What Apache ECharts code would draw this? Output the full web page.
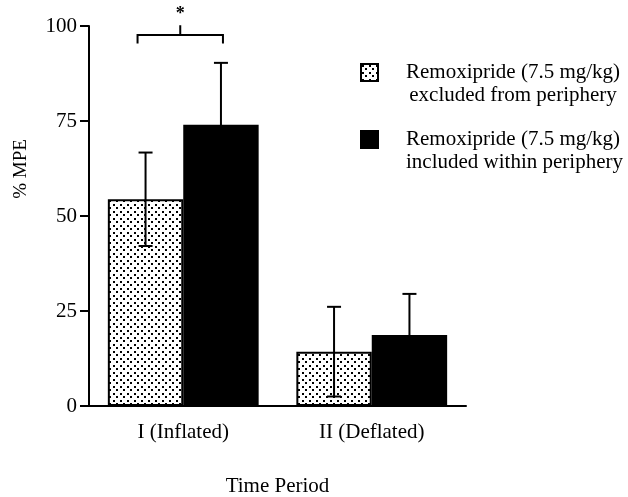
<!DOCTYPE html>
<html>
<head>
<meta charset="utf-8">
<script src="https://cdn.jsdelivr.net/npm/echarts@6/dist/echarts.min.js"></script>
<style>html,body{margin:0;padding:0;background:#fff;}#c{width:628px;height:497px;}</style>
</head>
<body>
<div id="c"></div>
<script>
const categories = ['I (Inflated)', 'II (Deflated)'];
const excludedMean = [54.4, 14.3];
const excludedErr = [12.3, 11.8];
const includedMean = [74.0, 18.7];
const includedErr = [16.3, 10.8];
const yTicks = [0, 25, 50, 75, 100];
const seriesNames = ['Remoxipride (7.5 mg/kg)\nexcluded from periphery', 'Remoxipride (7.5 mg/kg)\nincluded within periphery'];
const significance = [{ category: 0, level: 97.6, label: '*' }];

const FONT = 'Liberation Serif';

// dotted pattern
const pc = document.createElement('canvas');
pc.width = 7; pc.height = 7;
const pctx = pc.getContext('2d');
pctx.fillStyle = '#fff'; pctx.fillRect(0, 0, 7, 7);
pctx.fillStyle = '#000';
pctx.fillRect(1, 1, 2, 2);
pctx.fillRect(4, 4, 2, 2);
const dotted = { image: pc, repeat: 'repeat' };

const chart = echarts.init(document.getElementById('c'), null, { renderer: 'canvas' });

function errRender(offsetSign) {
  return function (params, api) {
    const idx = api.value(0);
    const m = api.value(1), e = api.value(2);
    const band = api.size([1, 0])[0];
    const x = api.coord([idx, m])[0] + offsetSign * band * 0.2;
    const yTop = api.coord([idx, m + e])[1];
    const yBot = api.coord([idx, m - e])[1];
    const cap = 7;
    const st = { stroke: '#000', lineWidth: 2 };
    return {
      type: 'group',
      children: [
        { type: 'line', shape: { x1: x, y1: yTop, x2: x, y2: yBot }, style: st },
        { type: 'line', shape: { x1: x - cap, y1: yTop, x2: x + cap, y2: yTop }, style: st },
        { type: 'line', shape: { x1: x - cap, y1: yBot, x2: x + cap, y2: yBot }, style: st }
      ]
    };
  };
}

const lineCenters = {
  a: { fontFamily: FONT, fontSize: 21, lineHeight: 23, color: '#000' },
  b: { fontFamily: FONT, fontSize: 21, lineHeight: 23, color: '#000', align: 'center' }
};

chart.setOption({
  animation: false,
  backgroundColor: '#fff',
  textStyle: { fontFamily: FONT, color: '#000' },
  grid: { left: 89, right: 162, top: 26, bottom: 91, containLabel: false, outerBoundsMode: 'none' },
  legend: {
    orient: 'vertical',
    left: 360,
    top: 62,
    padding: 0,
    itemWidth: 17,
    itemHeight: 17,
    itemGap: 23,
    icon: 'rect',
    selectedMode: false,
    data: seriesNames,
    formatter: function (name) {
      const parts = name.split('\n');
      return '{a|' + parts[0] + '}\n{b|' + parts[1] + '}';
    },
    textStyle: { fontFamily: FONT, fontSize: 21, color: '#000', padding: [23, 0, 0, 23], rich: lineCenters }
  },
  xAxis: {
    type: 'category',
    data: categories,
    name: 'Time Period',
    nameLocation: 'middle',
    nameGap: 70,
    nameTextStyle: { fontFamily: FONT, fontSize: 21, color: '#000' },
    axisLine: { lineStyle: { color: '#000', width: 2 } },
    axisTick: { alignWithLabel: true, length: 9, lineStyle: { color: '#000', width: 2 } },
    axisLabel: { fontFamily: FONT, fontSize: 21, color: '#000', margin: 16 }
  },
  yAxis: {
    type: 'value',
    min: yTicks[0],
    max: yTicks[yTicks.length - 1],
    interval: 25,
    name: '% MPE',
    nameLocation: 'middle',
    nameGap: 58,
    nameRotate: 90,
    nameTextStyle: { fontFamily: FONT, fontSize: 19, color: '#000', padding: [0, 0, 0, 94] },
    splitLine: { show: false },
    axisLine: { show: true, lineStyle: { color: '#000', width: 2 } },
    axisTick: { show: true, length: 9, lineStyle: { color: '#000', width: 2 } },
    axisLabel: { fontFamily: FONT, fontSize: 21, color: '#000', margin: 12 }
  },
  series: [
    {
      name: seriesNames[0], type: 'bar', data: excludedMean,
      barWidth: '40%', barGap: '0%',
      itemStyle: { color: dotted, borderColor: '#000', borderWidth: 2 }
    },
    {
      name: seriesNames[1], type: 'bar', data: includedMean,
      barWidth: '40%', barGap: '0%',
      itemStyle: { color: '#000', borderColor: '#000', borderWidth: 2 }
    },
    {
      type: 'custom', z: 5, silent: true,
      data: excludedMean.map((m, i) => [i, m, excludedErr[i]]),
      renderItem: errRender(-1)
    },
    {
      type: 'custom', z: 5, silent: true,
      data: includedMean.map((m, i) => [i, m, includedErr[i]]),
      renderItem: errRender(1)
    },
    {
      type: 'custom', z: 5, silent: true, clip: false,
      data: significance.map(s => [s.category, s.level]),
      renderItem: function (params, api) {
        const idx = api.value(0), lvl = api.value(1);
        const band = api.size([1, 0])[0];
        const c = api.coord([idx, lvl]);
        const xl = c[0] - band * 0.2 - 8, xr = c[0] + band * 0.2 + 2;
        const y = c[1];
        const yEnd = api.coord([idx, lvl - 2.2])[1];
        const yTick = api.coord([idx, lvl + 2.6])[1];
        const yStar = api.coord([idx, lvl + 5.4])[1];
        const xm = (xl + xr) / 2;
        const st = { stroke: '#000', lineWidth: 2, fill: null };
        return {
          type: 'group',
          children: [
            { type: 'polyline', shape: { points: [[xl, yEnd], [xl, y], [xr, y], [xr, yEnd]] }, style: st },
            { type: 'line', shape: { x1: xm, y1: y, x2: xm, y2: yTick }, style: st },
            { type: 'text', x: xm, y: yStar, style: { text: significance[params.dataIndex].label, fontFamily: FONT, fontSize: 18, fontWeight: 'bold', fill: '#000', align: 'center', verticalAlign: 'middle' } }
          ]
        };
      }
    }
  ]
});
</script>
</body>
</html>
